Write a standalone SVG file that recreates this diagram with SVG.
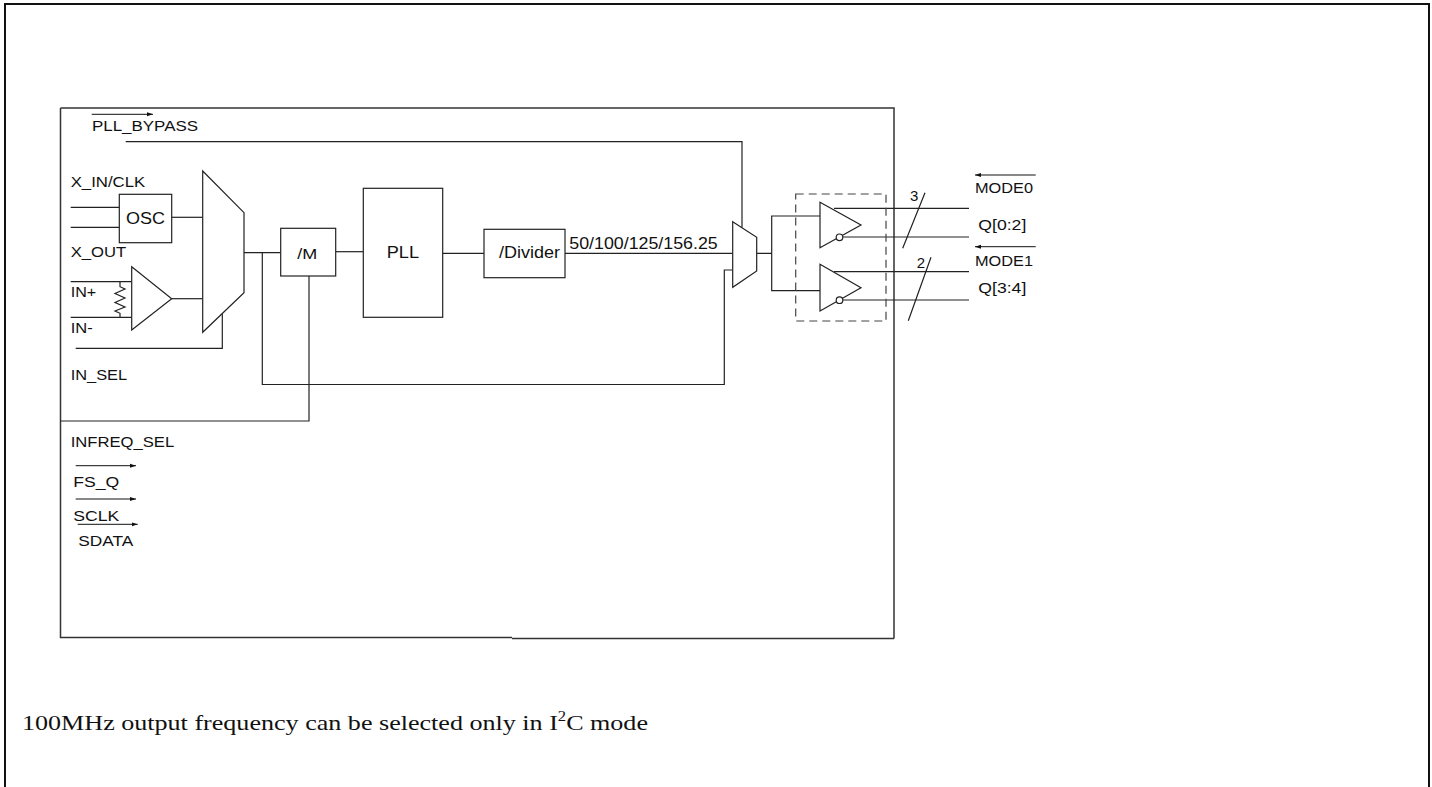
<svg xmlns="http://www.w3.org/2000/svg" width="1432" height="787" viewBox="0 0 1432 787">
<defs>
<marker id="ah" markerUnits="userSpaceOnUse" markerWidth="7" markerHeight="5" refX="6" refY="2.5" orient="auto">
<path d="M0,0.5 L6,2.5 L0,4.5 z" fill="#111"/>
</marker>
<style>
.frame{fill:none;stroke:#111;stroke-width:2}
.box{fill:none;stroke:#333;stroke-width:1.5}
.blk{fill:#fff;stroke:#222;stroke-width:1.2}
.w{fill:none;stroke:#222;stroke-width:1.2}
.arr{fill:none;stroke:#111;stroke-width:1;marker-end:url(#ah)}
.dash{fill:none;stroke:#444;stroke-width:1.2;stroke-dasharray:8 5}
.lbl{font-family:"Liberation Sans",Arial,sans-serif;font-size:14.5px;fill:#111}
.big{font-size:16px}
.note{font-family:"Liberation Serif","Times New Roman",serif;font-size:22px;fill:#111}
</style>
</defs>
<rect width="1432" height="787" fill="#fff"/>
<path class="frame" d="M5,800 V4 H1429 V800"/>
<g id="inner-box">
<path class="box" d="M60.5,108 H894 V638.5 M60.5,108 V637.5 H512 M512,638.5 H894"/>
</g>
<g id="connectors">
<path class="w" d="M125.7,141.7 H742 V227.5"/>
<path class="w" d="M70.7,207.3 H119.3 M70.7,227.3 H119.3"/>
<path class="w" d="M171.7,217.3 H202.7"/>
<path class="w" d="M171.7,298.7 H202.7"/>
<path class="w" d="M70.7,281.7 H131.7 M70.7,317.3 H131.7"/>
<path class="w" d="M75.7,348.3 H222.3 V313.5"/>
<path class="w" d="M244,252.7 H280.7"/>
<path class="w" d="M262.3,252.7 V384.5 H724.3 V270 H732.7"/>
<path class="w" d="M335.7,251.7 H363.3"/>
<path class="w" d="M309,276 V421 H60.5"/>
<path class="w" d="M442.7,253.3 H484"/>
<path class="w" d="M565,253.3 H732.7"/>
<path class="w" d="M756.7,253.3 H771.7 M820,216 H771.7 V290.7 H820"/>
<path class="w" d="M834,208.3 H969 M842.8,237 H969 M834,271.7 H969 M842.8,300 H969"/>
<path class="w" d="M925,192.7 L902.7,248.3 M931,257.3 L908.3,320.7"/>
<path class="arr" d="M91.7,114.3 H153"/>
<path class="arr" d="M1035.7,175 H975"/>
<path class="arr" d="M1035.7,246.7 H975"/>
<path class="arr" d="M75.7,465.7 H136"/>
<path class="arr" d="M75.7,499 H136"/>
<path class="arr" d="M77.7,524.3 H137.7"/>
</g>
<g id="osc">
<rect class="blk" x="119.3" y="194.3" width="52.4" height="48.4"/>
<text class="lbl big" x="126" y="224" textLength="39" lengthAdjust="spacingAndGlyphs">OSC</text>
</g>
<g id="diff-amp">
<polygon class="blk" points="131.7,266.7 171.7,298.7 131.7,330"/>
<path class="w" d="M120,281.7 V286.7 L125,289 L115,293.5 L125,298 L115,302.5 L125,307 L115,311 L120,313.3 V317.3"/>
</g>
<g id="mux1">
<polygon class="blk" points="202.7,171 244,212.7 244,292.7 202.7,332.3"/>
</g>
<g id="div-m">
<rect class="blk" x="280.7" y="228.3" width="55" height="47.7"/>
<text class="lbl" style="font-size:15.5px" x="297.3" y="259" textLength="20" lengthAdjust="spacingAndGlyphs">/M</text>
</g>
<g id="pll">
<rect class="blk" x="363.3" y="188.3" width="79.4" height="129"/>
<text class="lbl big" x="386.7" y="258.3" textLength="32.3" lengthAdjust="spacingAndGlyphs">PLL</text>
</g>
<g id="divider">
<rect class="blk" x="484" y="229.3" width="81" height="48.4"/>
<text class="lbl big" x="499" y="258.3" textLength="61" lengthAdjust="spacingAndGlyphs">/Divider</text>
</g>
<g id="mux2">
<polygon class="blk" points="732.7,221.7 756.7,237.3 756.7,271 732.7,287.3"/>
</g>
<g id="buffers">
<rect class="dash" x="795.7" y="194" width="90.3" height="127"/>
<polygon class="blk" points="820,202.3 861,225 820,247.7"/>
<circle class="blk" cx="839.5" cy="237.3" r="3.3"/>
<polygon class="blk" points="820,264.3 861,287.7 820,311"/>
<circle class="blk" cx="839.5" cy="300.2" r="3.3"/>
</g>
<g id="labels">
<text class="lbl" x="92" y="131" textLength="106" lengthAdjust="spacingAndGlyphs">PLL_BYPASS</text>
<text class="lbl" x="70.7" y="187" textLength="74.5" lengthAdjust="spacingAndGlyphs">X_IN/CLK</text>
<text class="lbl" x="70.7" y="256.7" textLength="55.5" lengthAdjust="spacingAndGlyphs">X_OUT</text>
<text class="lbl" x="70.7" y="296.7" textLength="25.5" lengthAdjust="spacingAndGlyphs">IN+</text>
<text class="lbl" x="70.7" y="333.3" textLength="22" lengthAdjust="spacingAndGlyphs">IN-</text>
<text class="lbl" x="70.7" y="380" textLength="56.5" lengthAdjust="spacingAndGlyphs">IN_SEL</text>
<text class="lbl" style="font-size:16.5px" x="569.3" y="249.3" textLength="148.4" lengthAdjust="spacingAndGlyphs">50/100/125/156.25</text>
<text class="lbl" style="font-size:15px" x="910" y="200.7">3</text>
<text class="lbl" style="font-size:15px" x="916.7" y="268.3">2</text>
<text class="lbl" x="975" y="193.3" textLength="58" lengthAdjust="spacingAndGlyphs">MODE0</text>
<text class="lbl" x="978.3" y="230" textLength="48" lengthAdjust="spacingAndGlyphs">Q[0:2]</text>
<text class="lbl" x="975" y="266" textLength="58" lengthAdjust="spacingAndGlyphs">MODE1</text>
<text class="lbl" x="978.3" y="293.3" textLength="48" lengthAdjust="spacingAndGlyphs">Q[3:4]</text>
<text class="lbl" x="70.7" y="446.7" textLength="103.5" lengthAdjust="spacingAndGlyphs">INFREQ_SEL</text>
<text class="lbl" x="73.3" y="487.3" textLength="46" lengthAdjust="spacingAndGlyphs">FS_Q</text>
<text class="lbl" x="73.3" y="520.7" textLength="46" lengthAdjust="spacingAndGlyphs">SCLK</text>
<text class="lbl" x="78.3" y="545.7" textLength="55" lengthAdjust="spacingAndGlyphs">SDATA</text>
</g>
<g id="note">
<text class="note" x="22" y="730" textLength="626" lengthAdjust="spacingAndGlyphs">100MHz output frequency can be selected only in I<tspan dy="-9" font-size="14">2</tspan><tspan dy="9">C mode</tspan></text>
</g>
</svg>
